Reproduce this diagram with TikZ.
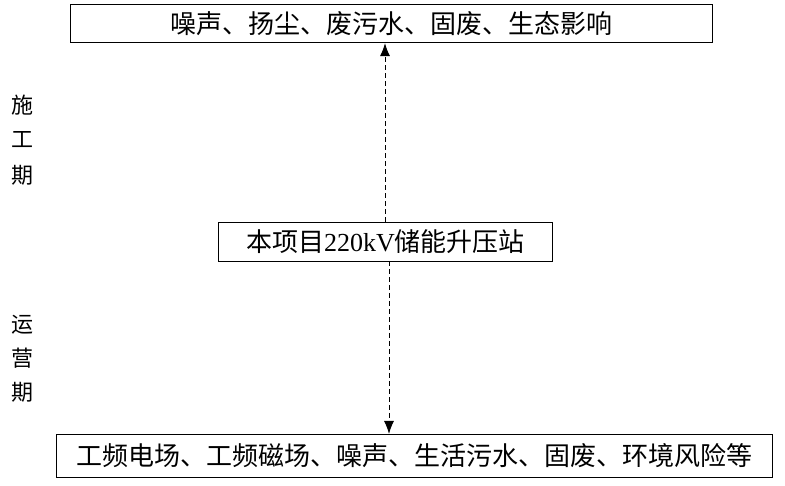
\documentclass[tikz,border=0pt]{standalone}
\usepackage{fontspec}
\setmainfont{Liberation Serif}
\newfontfamily\cjk{Noto Sans CJK SC}
\usetikzlibrary{arrows.meta}
\begin{document}
\begin{tikzpicture}[x=1pt,y=-1pt,
  boxstyle/.style={draw,line width=1.1pt,inner sep=0pt,anchor=north west},
  txt/.style={font=\fontsize{26}{30}\selectfont},
  side/.style={font=\fontsize{22}{26}\selectfont},
  conn/.style={dashed,dash pattern=on 5pt off 3pt,line width=1pt,-{Latex[length=13pt,width=10pt]}}]
\useasboundingbox (0,0) rectangle (785,486);
\node[boxstyle,minimum width=642pt,minimum height=38pt] (top) at (70,4) {};
\node[txt] at (top.center) {\cjk 噪声、扬尘、废污水、固废、生态影响};
\node[boxstyle,minimum width=334pt,minimum height=39pt] (mid) at (218,222) {};
\node[txt] at (mid.center) {\cjk 本项目\rmfamily 220kV\cjk 储能升压站};
\node[boxstyle,minimum width=716pt,minimum height=43pt] (bot) at (56,434) {};
\node[txt] at (bot.center) {\cjk 工频电场、工频磁场、噪声、生活污水、固废、环境风险等};
\node[side] (s1) at (22,105) {\cjk 施};
\node[side] (s2) at (22,140) {\cjk 工};
\node[side] (s3) at (22,175) {\cjk 期};
\node[side] (o1) at (22,325) {\cjk 运};
\node[side] (o2) at (22,358) {\cjk 营};
\node[side] (o3) at (22,392) {\cjk 期};
\coordinate (mt) at (385,222);
\coordinate (mb) at (389,261);
\draw[conn] (mt) -- (mt |- top.south);
\draw[conn] (mb) -- (mb |- bot.north);
\end{tikzpicture}
\end{document}
